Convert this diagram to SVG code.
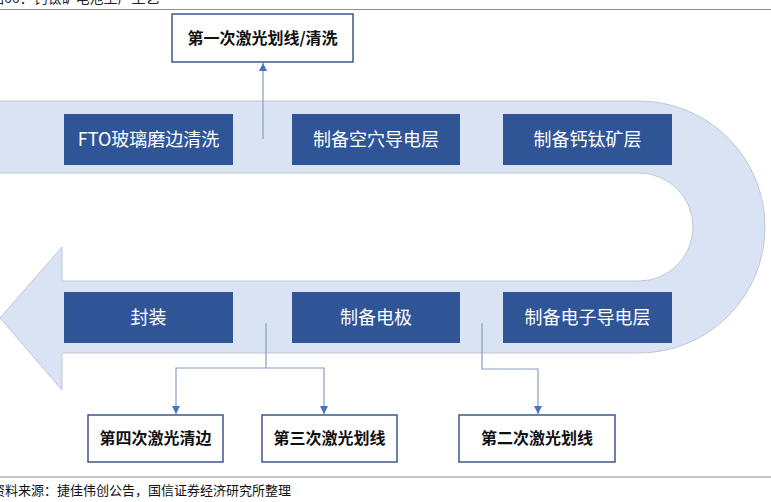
<svg xmlns="http://www.w3.org/2000/svg" width="771" height="502" viewBox="0 0 771 502">
<defs>
<style>
.t{font-family:"Noto Sans CJK SC","Noto Sans",sans-serif;}
.dark rect{fill:#2F5597;}
.dark text{fill:#FFFFFF;font-size:18px;text-anchor:middle;}
.out rect{fill:#FFFFFF;stroke:#2F4B86;stroke-width:1.4;}
.out text{fill:#111111;font-size:16px;font-weight:bold;text-anchor:middle;}
.conn path{fill:none;stroke:#8C9DBD;stroke-width:1.2;}
</style>
<marker id="ah" viewBox="0 0 8 8" refX="8" refY="4" markerWidth="8" markerHeight="8" markerUnits="userSpaceOnUse" orient="auto">
<path d="M0,0 L8,4 L0,8 Z" fill="#4472C4"/>
</marker>
</defs>
<rect x="0" y="0" width="771" height="502" fill="#FFFFFF"/>
<text class="t" x="-10" y="3" font-size="14" fill="#222">图66：钙钛矿电池生产工艺</text>
<line x1="0" y1="9.5" x2="771" y2="9.5" stroke="#8E8E8E" stroke-width="1.2"/>
<g id="band">
<path d="M-2,101 L639,101 A126,126 0 0 1 639,353 L62,353 L62,390 L0,318 L62,247 L62,281 L639,281 A54,54 0 0 0 639,173 L-2,173 Z" fill="#DAE3F3" stroke="#B9C3D6" stroke-width="0.9"/>
</g>
<g id="n-fto" class="dark t"><rect x="64" y="114" width="169" height="51"/><text x="148.5" y="146">FTO玻璃磨边清洗</text></g>
<g id="n-htl" class="dark t"><rect x="292" y="114" width="168" height="51"/><text x="376" y="146">制备空穴导电层</text></g>
<g id="n-pvk" class="dark t"><rect x="503" y="114" width="169" height="51"/><text x="587.5" y="146">制备钙钛矿层</text></g>
<g id="n-etl" class="dark t"><rect x="503" y="292" width="169" height="51"/><text x="587.5" y="324">制备电子导电层</text></g>
<g id="n-elec" class="dark t"><rect x="292" y="292" width="168" height="51"/><text x="376" y="324">制备电极</text></g>
<g id="n-pack" class="dark t"><rect x="64" y="292" width="169" height="51"/><text x="148.5" y="324">封装</text></g>
<g id="n-p1" class="out t"><rect x="172" y="14" width="181" height="48"/><text x="262.5" y="44">第一次激光划线/清洗</text></g>
<g id="n-p4" class="out t"><rect x="88" y="415" width="135" height="47"/><text x="155.5" y="444">第四次激光清边</text></g>
<g id="n-p3" class="out t"><rect x="262" y="415" width="135" height="47"/><text x="329.5" y="444">第三次激光划线</text></g>
<g id="n-p2" class="out t"><rect x="459" y="415" width="156" height="47"/><text x="537" y="444">第二次激光划线</text></g>
<g id="connectors" class="conn">
<path d="M263,139 L263,63" marker-end="url(#ah)"/>
<path d="M266,323 L266,368 L176,368 L176,414" marker-end="url(#ah)"/>
<path d="M266,368 L324,368 L324,414" marker-end="url(#ah)"/>
<path d="M482,323 L482,369 L538,369 L538,414" marker-end="url(#ah)"/>
</g>
<line x1="0" y1="477" x2="771" y2="477" stroke="#8E8E8E" stroke-width="1.2"/>
<text class="t" x="-8" y="495" font-size="13" fill="#111">资料来源：捷佳伟创公告，国信证券经济研究所整理</text>
</svg>
